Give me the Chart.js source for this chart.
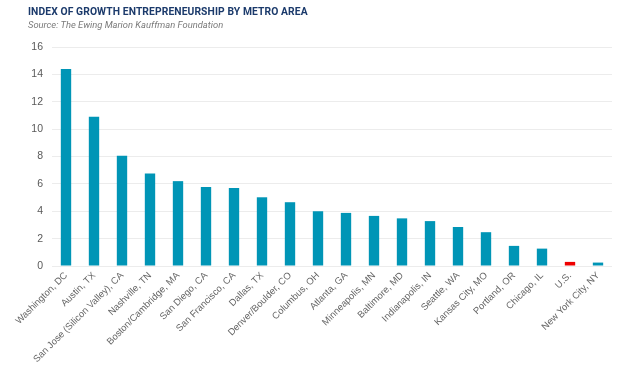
<!DOCTYPE html>
<html>
<head>
<meta charset="utf-8">
<script src="https://cdn.jsdelivr.net/npm/chart.js@4"></script>
<style>
  body { margin: 0; background: #fff; }
  #wrap { position: relative; width: 620px; height: 373px; }
  #titulo { position: absolute; left: 28px; top: 5px; font: bold 10.3px Roboto, sans-serif; color: #1b3a6b; letter-spacing: 0.1px; }
  #fonte { position: absolute; left: 28px; top: 19px; font: italic 9.4px Roboto, sans-serif; color: #7a7a7a; }
</style>
</head>
<body>
<div id="wrap">
  <div id="titulo">INDEX OF GROWTH ENTREPRENEURSHIP BY METRO AREA</div>
  <div id="fonte">Source: The Ewing Marion Kauffman Foundation</div>
  <canvas id="grafico" width="620" height="373"></canvas>
</div>
<script>
// Dados
const metros = [
    "Washington, DC", "Austin, TX", "San Jose (Silicon Valley), CA", "Nashville, TN",
    "Boston/Cambridge, MA", "San Diego, CA", "San Francisco, CA", "Dallas, TX",
    "Denver/Boulder, CO", "Columbus, OH", "Atlanta, GA", "Minneapolis, MN",
    "Baltimore, MD", "Indianapolis, IN", "Seattle, WA", "Kansas City, MO",
    "Portland, OR", "Chicago, IL", "U.S.", "New York City, NY"
];
const indice = [14.4, 10.9, 8.05, 6.75, 6.2, 5.77, 5.7, 5.02, 4.66, 4.0,
                3.88, 3.66, 3.48, 3.28, 2.85, 2.47, 1.47, 1.27, 0.3, 0.25];
const yTicks = [0, 2, 4, 6, 8, 10, 12, 14, 16];

const cores = metros.map(m => m === "U.S." ? "#ee0000" : "#0095b6");

const ctx = document.getElementById('grafico');

new Chart(ctx, {
    type: 'bar',
    data: {
        labels: metros,
        datasets: [{
            data: indice,
            backgroundColor: cores,
            barPercentage: 0.74,
            categoryPercentage: 0.5
        }]
    },
    options: {
        responsive: false,
        animation: false,
        layout: { padding: { top: 47, right: 8, left: 0, bottom: 0 } },
        plugins: {
            legend: { display: false },
            tooltip: { enabled: false }
        },
        scales: {
            x: {
                grid: { display: false },
                border: { display: false },
                ticks: {
                    color: "#666",
                    font: { family: "Arial", size: 9.5 },
                    maxRotation: 45,
                    minRotation: 45,
                    autoSkip: false,
                    padding: -4
                },
                afterFit: s => { s.height = 107; }
            },
            y: {
                min: 0,
                max: 16,
                afterBuildTicks: s => { s.ticks = yTicks.map(v => ({ value: v })); },
                grid: { color: "#ececec", drawTicks: false },
                border: { display: false },
                ticks: {
                    color: "#595959",
                    font: { family: "Arial", size: 10.5 },
                    padding: 9
                },
                afterFit: s => { s.width = 52; }
            }
        }
    }
});
</script>
</body>
</html>
